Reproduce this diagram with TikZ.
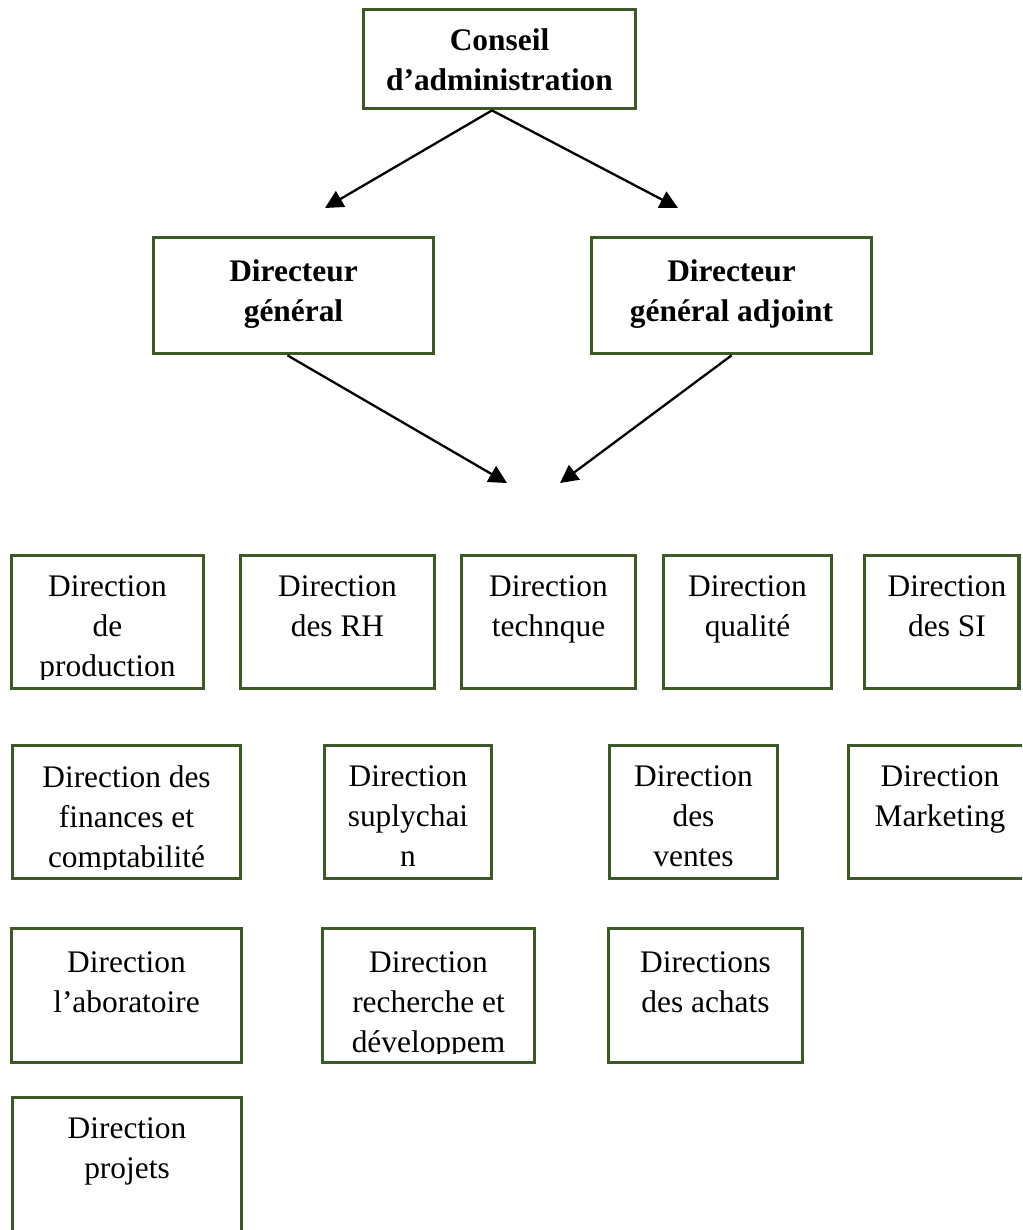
\documentclass[tikz,border=0pt]{standalone}
\usepackage{fontspec}
\setmainfont{Liberation Serif}
\usetikzlibrary{arrows.meta,fit}

\definecolor{boxgreen}{RGB}{60,90,40}

\tikzset{
  box/.style={draw=boxgreen, line width=1.9pt, inner sep=0pt, fill=none},
  txt/.style={anchor=north, inner sep=0pt, align=center,
              font=\fontsize{15.7}{20}\selectfont},
  arr/.style={line width=1.15pt, -{Triangle[length=9pt,width=9pt]}}
}

% #1 name, #2-#5 frame corners, #6 text centre x, #7 text top y, #8 text
\newcommand\orgbox[8]{%
  \node[box, fit={(#2,#3) (#4,#5)}] (#1) {};
  \begin{scope}
    \clip (#2,#3) rectangle (#4,#5-9);
    \node[txt] (#1-t) at (#6,#7) {#8};
  \end{scope}}

\begin{document}
\begin{tikzpicture}[x=0.5pt, y=-0.5pt]
  \useasboundingbox (0,0) rectangle (1022,1230);
  \clip (0,0) rectangle (1022,1230);

  % management
  \orgbox{cons}{363.5}{9.5}{635.5}{108.5}{499.5}{28}{\bfseries Conseil\\\bfseries d’administration}
  \orgbox{dg}{153.5}{237.5}{433.5}{353.5}{293.5}{259}{\bfseries Directeur\\\bfseries général}
  \orgbox{dga}{591.5}{237.5}{871.5}{353.5}{731.5}{259}{\bfseries Directeur\\\bfseries général adjoint}

  \coordinate (pl) at (325,208);
  \coordinate (pr) at (678,208);
  \coordinate (ql) at (507,483);
  \coordinate (qr) at (560,483);

  \draw[arr] ([xshift=-3.75pt]cons.south) -- (pl);
  \draw[arr] ([xshift=-3.75pt]cons.south) -- (pr);
  \draw[arr] ([xshift=-3pt]dg.south) -- (ql);
  \draw[arr] (dga.south) -- (qr);

  % first row of directions
  \orgbox{prod}{11.5}{555.5}{203.5}{688.5}{107.5}{575}{Direction\\de\\production}
  \orgbox{rh}{240.5}{555.5}{434.5}{688.5}{337.5}{575}{Direction\\des RH}
  \orgbox{tech}{461.5}{555.5}{635.5}{688.5}{548.5}{575}{Direction\\technque}
  \orgbox{qual}{663.5}{555.5}{831.5}{688.5}{747.5}{575}{Direction\\qualité}
  \orgbox{si}{864.5}{555.5}{1019}{688.5}{947}{575}{Direction\\des SI}

  % second row
  \orgbox{fin}{12.5}{745.5}{240.5}{878.5}{126.5}{765}{Direction des\\finances et\\comptabilité}
  \orgbox{sup}{324.5}{745.5}{491.5}{878.5}{408}{765}{Direction\\suplychai\\n}
  \orgbox{ven}{609.5}{745.5}{777.5}{878.5}{693.5}{765}{Direction\\des\\ventes}
  \orgbox{mkt}{848.5}{745.5}{1036}{878.5}{940}{765}{Direction\\Marketing}

  % third row
  \orgbox{lab}{11.5}{928.5}{241.5}{1062.5}{126.5}{951}{Direction\\l’aboratoire}
  \orgbox{rd}{322.5}{928.5}{534.5}{1062.5}{428.5}{951}{Direction\\recherche et\\développem}
  \orgbox{ach}{608.5}{928.5}{802.5}{1062.5}{705.5}{951}{Directions\\des achats}

  % fourth row
  \orgbox{proj}{12.5}{1097.5}{241.5}{1262}{127}{1117}{Direction\\projets}
\end{tikzpicture}
\end{document}
